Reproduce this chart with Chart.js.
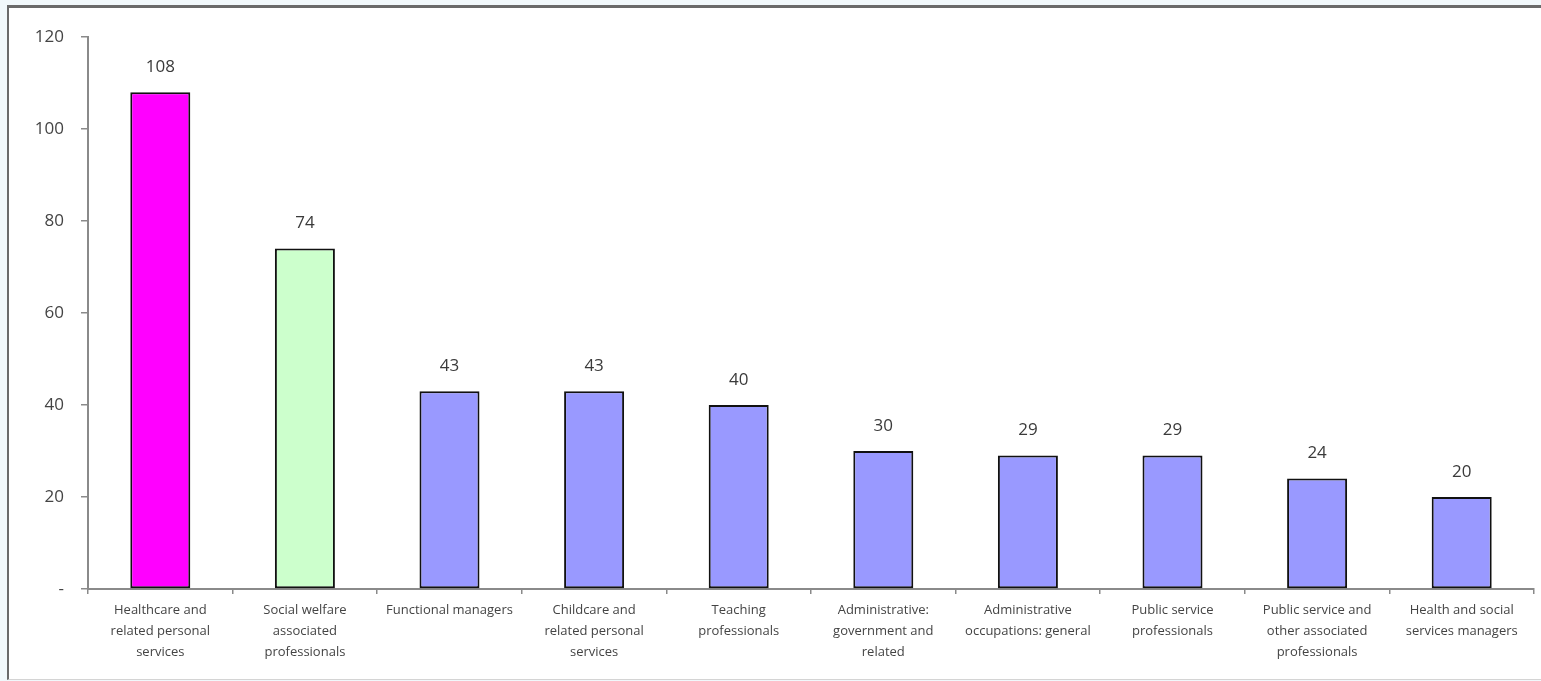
<!DOCTYPE html>
<html>
<head>
<meta charset="utf-8">
<script src="https://cdn.jsdelivr.net/npm/chart.js@4/dist/chart.umd.min.js"></script>
<style>
  html, body { margin: 0; padding: 0; background: #f1f8fb; }
  .frame {
    position: absolute; left: 7px; top: 5px; width: 1534px; height: 675px;
    background: #fff; border-left: 2px solid #6a6a6a; border-top: 3px solid #6a6a6a;
    border-bottom: 1px solid #d4d4d4; box-sizing: border-box;
  }
  .frame canvas { display: block; }
</style>
</head>
<body>
<div class="frame"><canvas id="jobsChart" width="1532" height="671"></canvas></div>
<script>
const categories = [
  ["Healthcare and", "related personal", "services"],
  ["Social welfare", "associated", "professionals"],
  ["Functional managers"],
  ["Childcare and", "related personal", "services"],
  ["Teaching", "professionals"],
  ["Administrative:", "government and", "related"],
  ["Administrative", "occupations: general"],
  ["Public service", "professionals"],
  ["Public service and", "other associated", "professionals"],
  ["Health and social", "services managers"],
];
const values = [108, 74, 43, 43, 40, 30, 29, 29, 24, 20];
const barColors = ["#ff00ff", "#ccffcc", "#9999ff", "#9999ff", "#9999ff", "#9999ff", "#9999ff", "#9999ff", "#9999ff", "#9999ff"];
const yTicks = [0, 20, 40, 60, 80, 100, 120];

// value printed above each bar
const barValueLabels = {
  id: "barValueLabels",
  afterDatasetsDraw(chart) {
    const ctx = chart.ctx;
    const meta = chart.getDatasetMeta(0);
    ctx.save();
    ctx.font = '17px "Open Sans"';
    ctx.fillStyle = "#3a3a3a";
    ctx.textAlign = "center";
    ctx.textBaseline = "middle";
    meta.data.forEach((bar, i) => {
      ctx.fillText(String(values[i]), bar.x, bar.y - 25);
    });
    ctx.restore();
  },
};

new Chart(document.getElementById("jobsChart"), {
  type: "bar",
  data: {
    labels: categories,
    datasets: [{
      data: values,
      backgroundColor: barColors,
      borderColor: "#111",
      borderWidth: 2,
      borderSkipped: false,
      barPercentage: 0.415,
      categoryPercentage: 1,
    }],
  },
  options: {
    responsive: false,
    animation: false,
    layout: { padding: { top: 29, right: 7, left: 0, bottom: 0 } },
    plugins: { legend: { display: false }, tooltip: { enabled: false } },
    scales: {
      x: {
        offset: true,
        grid: { offset: true, drawOnChartArea: false, drawTicks: true, tickLength: 5, color: "#8a8a8a", lineWidth: 1.5 },
        border: { color: "#8a8a8a", width: 2 },
        ticks: { color: "#444", font: { family: "Open Sans", size: 13, lineHeight: 1.6 }, padding: 6, maxRotation: 0, autoSkip: false },
        afterFit: (scale) => { scale.height = 90; },
      },
      y: {
        min: 0,
        max: 120,
        afterBuildTicks: (scale) => { scale.ticks = yTicks.map((v) => ({ value: v })); },
        grid: { drawOnChartArea: false, drawTicks: true, tickLength: 7, color: "#8a8a8a", lineWidth: 1.5 },
        border: { color: "#8a8a8a", width: 2 },
        ticks: {
          color: "#444",
          font: { family: "Open Sans", size: 17 },
          padding: 17,
          callback: (v) => (v === 0 ? "-" : v),
        },
        afterFit: (scale) => { scale.width = 79; },
      },
    },
  },
  plugins: [barValueLabels],
});
</script>
</body>
</html>
